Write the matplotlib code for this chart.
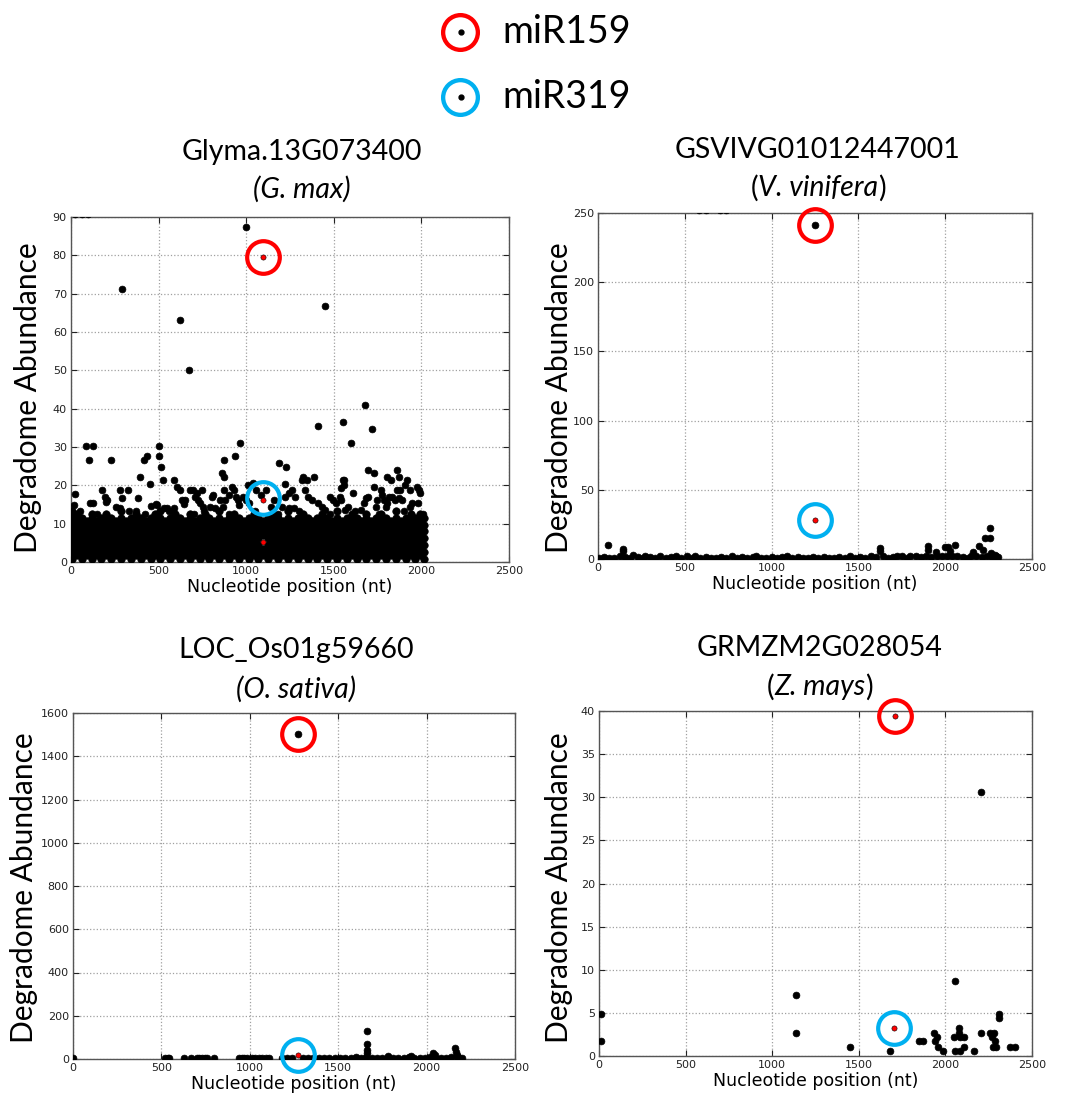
import matplotlib.pyplot as plt
from matplotlib.lines import Line2D


W, H = 1068, 1098
TEXT_FONT = ["Lato", "DejaVu Sans"]
RED = "#ff0000"
BLUE = "#00b0f0"

# ---- G. max (Glyma.13G073400) ----
gmax_band_x = [6, 34, 62, 90, 118, 146, 174, 202, 230, 258, 286, 314, 342, 370, 398,
               426, 454, 482, 510, 538, 566, 594, 622, 650, 678, 706, 734, 762, 790,
               818, 846, 874, 902, 930, 958, 986, 1014, 1042, 1070, 1098, 1126, 1154,
               1182, 1210, 1238, 1266, 1294, 1322, 1350, 1378, 1406, 1434, 1462, 1490,
               1518, 1546, 1574, 1602, 1630, 1658, 1686, 1714, 1742, 1770, 1798, 1826,
               1854, 1882, 1910, 1938, 1966, 1994, 2016]
gmax_band_y = [
    [0.9, 2.7, 4.4, 6.2, 8.0, 9.7, 11.5, 13.3],
    [1.8, 3.5, 5.3, 7.1, 8.9, 10.6, 12.4],
    [0.9, 2.7, 4.4, 6.2, 8.0, 9.7, 11.5],
    [1.8, 3.5, 5.3, 7.1, 8.9, 10.6],
    [0.9, 2.7, 4.4, 6.2, 8.0, 9.7, 11.5, 12.4],
    [1.8, 3.5, 5.3, 7.1, 8.9, 10.6],
    [0.9, 2.7, 4.4, 6.2, 8.0, 9.7, 11.5],
    [1.8, 3.5, 5.3, 7.1, 8.9, 10.6, 12.4],
    [0.9, 2.7, 4.4, 6.2, 8.0, 9.7, 11.5],
    [1.8, 3.5, 5.3, 7.1, 8.9, 10.6],
    [0.9, 2.7, 4.4, 6.2, 8.0, 9.7, 11.5, 13.3],
    [1.8, 3.5, 5.3, 7.1, 8.9, 10.6],
    [0.9, 2.7, 4.4, 6.2, 8.0, 9.7, 11.5],
    [1.8, 3.5, 5.3, 7.1, 8.9, 10.6, 12.4],
    [0.9, 2.7, 4.4, 6.2, 8.0, 9.7, 11.5],
    [1.8, 3.5, 5.3, 7.1, 8.9, 10.6],
    [0.9, 2.7, 4.4, 6.2, 8.0, 9.7, 11.5],
    [1.8, 3.5, 5.3, 7.1, 8.9, 10.6, 12.4],
    [0.9, 2.7, 4.4, 6.2, 8.0, 9.7, 11.5, 13.3],
    [1.8, 3.5, 5.3, 7.1, 8.9, 10.6],
    [0.9, 2.7, 4.4, 6.2, 8.0, 9.7, 11.5],
    [1.8, 3.5, 5.3, 7.1, 8.9, 10.6, 12.4],
    [0.9, 2.7, 4.4, 6.2, 8.0, 9.7, 11.5],
    [1.8, 3.5, 5.3, 7.1, 8.9, 10.6],
    [0.9, 2.7, 4.4, 6.2, 8.0, 9.7, 11.5, 12.4],
    [1.8, 3.5, 5.3, 7.1, 8.9, 10.6],
    [0.9, 2.7, 4.4, 6.2, 8.0, 9.7, 11.5],
    [1.8, 3.5, 5.3, 7.1, 8.9, 10.6, 12.4],
    [0.9, 2.7, 4.4, 6.2, 8.0, 9.7, 11.5],
    [1.8, 3.5, 5.3, 7.1, 8.9, 10.6],
    [0.9, 2.7, 4.4, 6.2, 8.0, 9.7, 11.5, 13.3],
    [1.8, 3.5, 5.3, 7.1, 8.9, 10.6],
    [0.9, 2.7, 4.4, 6.2, 8.0, 9.7, 11.5],
    [1.8, 3.5, 5.3, 7.1, 8.9, 10.6, 12.4],
    [0.9, 2.7, 4.4, 6.2, 8.0, 9.7, 11.5],
    [1.8, 3.5, 5.3, 7.1, 8.9, 10.6],
    [0.9, 2.7, 4.4, 6.2, 8.0, 9.7, 11.5],
    [1.8, 3.5, 5.3, 7.1, 8.9, 10.6, 12.4],
    [0.9, 2.7, 4.4, 6.2, 8.0, 9.7, 11.5],
    [1.8, 3.5, 7.1, 8.9, 10.6],
    [0.9, 2.7, 4.4, 6.2, 8.0, 9.7, 11.5],
    [1.8, 3.5, 5.3, 7.1, 8.9, 10.6, 12.4],
    [0.9, 2.7, 4.4, 6.2, 8.0, 9.7, 11.5],
    [1.8, 3.5, 5.3, 7.1, 8.9, 10.6],
    [0.9, 2.7, 4.4, 6.2, 8.0, 9.7, 11.5, 13.3],
    [1.8, 3.5, 5.3, 7.1, 8.9, 10.6],
    [0.9, 2.7, 4.4, 6.2, 8.0, 9.7, 11.5],
    [1.8, 3.5, 5.3, 7.1, 8.9, 10.6, 12.4],
    [0.9, 2.7, 4.4, 6.2, 8.0, 9.7, 11.5],
    [1.8, 3.5, 5.3, 7.1, 8.9, 10.6],
    [0.9, 2.7, 4.4, 6.2, 8.0, 9.7, 11.5],
    [1.8, 3.5, 5.3, 7.1, 8.9, 10.6, 12.4],
    [0.9, 2.7, 4.4, 6.2, 8.0, 9.7, 11.5],
    [1.8, 3.5, 5.3, 7.1, 8.9, 10.6],
    [0.9, 2.7, 4.4, 6.2, 8.0, 9.7, 11.5, 13.3],
    [1.8, 3.5, 5.3, 7.1, 8.9, 10.6],
    [0.9, 2.7, 4.4, 6.2, 8.0, 9.7, 11.5],
    [1.8, 3.5, 5.3, 7.1, 8.9, 10.6, 12.4],
    [0.9, 2.7, 4.4, 6.2, 8.0, 9.7, 11.5],
    [1.8, 3.5, 5.3, 7.1, 8.9, 10.6],
    [0.9, 2.7, 4.4, 6.2, 8.0, 9.7, 11.5, 12.4],
    [1.8, 3.5, 5.3, 7.1, 8.9, 10.6],
    [0.9, 2.7, 4.4, 6.2, 8.0, 9.7, 11.5],
    [1.8, 3.5, 5.3, 7.1, 8.9, 10.6, 12.4],
    [0.9, 2.7, 4.4, 6.2, 8.0, 9.7, 11.5],
    [1.8, 3.5, 5.3, 7.1, 8.9, 10.6],
    [0.9, 2.7, 4.4, 6.2, 8.0, 9.7, 11.5, 13.3],
    [1.8, 3.5, 5.3, 7.1, 8.9, 10.6],
    [0.9, 2.7, 4.4, 6.2, 8.0, 9.7, 11.5],
    [1.8, 3.5, 5.3, 7.1, 8.9, 10.6, 12.4],
    [0.9, 2.7, 4.4, 6.2, 8.0, 9.7, 11.5],
    [1.8, 3.5, 5.3, 7.1, 8.9, 10.6, 12.4],
    [0.9, 2.7, 4.4, 6.2, 8.0, 9.7, 11.5],
]
gmax_points = [
    (1001, 87.4), (292, 71.3), (621, 63.2), (671, 50.0), (1449, 66.8), (1679, 41.0),
    (1409, 35.6), (1554, 36.4), (1719, 34.7), (1598, 31.1), (965, 31.1), (87, 30.3),
    (125, 30.3), (104, 26.7), (230, 26.7), (418, 26.7), (433, 27.6), (505, 30.3),
    (502, 27.6), (513, 24.8), (391, 22.2), (450, 20.4), (524, 21.3), (589, 21.3),
    (876, 26.7), (937, 27.6), (861, 23.2), (874, 22.2), (1189, 25.7), (1225, 24.8),
    (1221, 20.4), (1317, 21.4), (1326, 22.2), (1345, 21.3), (1385, 22.2), (1560, 21.3),
    (1693, 24.1), (1731, 23.2), (1806, 22.2), (1829, 21.3), (1858, 24.1), (1873, 22.2),
    (1919, 21.3), (21, 17.7), (15, 14.8), (109, 15.3), (127, 15.3), (178, 18.8),
    (193, 17.0), (208, 16.3), (202, 15.7), (259, 14.4), (277, 14.2), (277, 18.8),
    (290, 16.8), (324, 18.8), (380, 16.8), (371, 13.3), (459, 14.6), (483, 15.1),
    (493, 14.8), (530, 14.2), (549, 14.2), (587, 14.2), (577, 13.2), (605, 19.6),
    (624, 18.8), (633, 16.1), (652, 16.1), (646, 15.1), (680, 18.8), (699, 18.8),
    (718, 17.9), (708, 17.0), (727, 16.1), (737, 15.3), (755, 14.4), (750, 18.8),
    (805, 17.0), (812, 17.5), (793, 14.4), (821, 14.0), (874, 18.8), (902, 17.5),
    (849, 16.1), (877, 16.1), (868, 14.4), (920, 19.6), (933, 18.8), (943, 17.0),
    (952, 16.1), (961, 14.8), (980, 17.0), (1008, 20.1), (1036, 20.5), (1055, 18.8),
    (1083, 17.5), (1111, 18.8), (1158, 16.1), (1139, 14.4), (999, 16.1), (1018, 15.3),
    (1219, 17.0), (1242, 17.9), (1261, 18.8), (1280, 17.0), (1205, 14.4), (1242, 14.0),
    (1270, 14.2), (1336, 18.8), (1355, 17.0), (1374, 16.1), (1411, 15.3), (1430, 14.4),
    (1449, 13.5), (1477, 17.0), (1496, 16.1), (1515, 15.3), (1534, 17.0), (1543, 16.1),
    (1552, 21.4), (1556, 20.1), (1543, 19.2), (1580, 14.4), (1562, 13.5), (1608, 17.9),
    (1655, 13.5), (1674, 15.3), (1683, 16.6), (1693, 17.0), (1730, 19.6), (1768, 18.8),
    (1777, 17.5), (1786, 16.1), (1805, 15.3), (1796, 14.4), (1749, 16.1), (1739, 14.4),
    (1814, 17.0), (1833, 17.0), (1852, 16.1), (1871, 16.6), (1889, 16.1), (1861, 18.8),
    (1880, 18.8), (1908, 20.1), (1936, 18.8), (1945, 15.3), (1936, 14.4), (1973, 19.6),
    (1988, 18.8), (1992, 17.9), (1983, 15.3), (50, 13.3), (150, 12.4), (330, 13.3),
    (420, 12.4), (560, 13.3), (700, 12.4), (760, 13.3), (900, 12.4), (1050, 13.3),
    (1180, 12.4), (1300, 13.3), (1480, 12.4), (1620, 13.3), (1760, 12.4), (1900, 13.3),
    (2010, 12.4), (20, 90.7), (60, 90.7), (95, 90.7),
]
gmax_red = [(1096, 79.5), (1096, 16.1), (1094, 5.3)]
gmax_mir159 = (1096, 79.5)
gmax_mir319 = (1096, 16.8)

# ---- V. vinifera (GSVIVG01012447001) ----
vin_x = [5, 35, 65, 95, 125, 155, 185, 200, 230, 260, 270, 300, 330, 360, 390, 420,
         450, 480, 510, 540, 560, 590, 620, 650, 680, 710, 740, 770, 800, 830, 860,
         890, 910, 940, 970, 1000, 1030, 1060, 1090, 1120, 1150, 1180, 1210, 1240,
         1270, 1300, 1330, 1360, 1390, 1420, 1450, 1480, 1510, 1540, 1570, 1600, 1640,
         1670, 1700, 1720, 1750, 1780, 1800, 1830, 1860, 1890, 1920, 1950, 1980, 2010,
         2040, 2070, 2100, 2130, 2150, 2180, 2210, 2240, 2270, 2290,
         60, 144, 144, 1626, 1626, 1901, 1901, 1949, 1997, 2016, 2054, 2026, 2160,
         2195, 2218, 2227, 2260, 2260, 2266, 2285, 2304, 580, 620, 700, 740, 1252]
vin_y = [1, 1.5, 1, 1, 2, 1.5, 1, 3, 1.5, 1, 2.5, 1.5, 1, 2, 1, 1.5,
         2, 1, 2, 1, 2.5, 1, 1.5, 1, 1, 1.5, 1, 2.5, 1, 1.5, 1,
         1.5, 2.5, 1, 1, 1.5, 1, 1.5, 2.5, 1, 1.5, 1, 1, 1.5,
         1, 1.5, 1, 1, 1.5, 1, 2, 1, 1.5, 1, 2, 1.5, 2,
         1, 1.5, 2.5, 2, 1, 2.5, 2, 1.5, 2, 1.5, 2, 2.5, 2,
         2.5, 2, 1.5, 1, 2, 2.5, 1.5, 2, 1.5, 2,
         10.1, 7.2, 5.5, 8.0, 5.5, 9.2, 6.3, 4.8, 8.4, 8.4, 10.1, 5.5, 4.8,
         9.6, 6.7, 14.9, 14.9, 22.7, 4.3, 3.1, 1.4, 252, 252, 252, 252, 241.2]
vin_red = [(1252, 28.0)]
vin_mir159 = (1252, 241.2)
vin_mir319 = (1252, 28.0)

# ---- O. sativa (LOC_Os01g59660) ----
osa_x = [0, 520, 535, 545, 625, 665, 700, 715, 730, 745, 760, 800, 940, 955, 970, 985,
         1010, 1030, 1050, 1070, 1090, 1110, 1180, 1210, 1240, 1300, 1330, 1360, 1390,
         1420, 1450, 1480, 1510, 1540, 1570, 1600, 1630, 1660, 1690, 1720, 1750, 1780,
         1810, 1840, 1870, 1900, 1930, 1960, 1990, 2020, 2050, 2080, 2110, 2140, 2170,
         2200, 1664, 1664, 1664, 1664, 1783, 1910, 2038, 2045, 2160, 2166, 2170, 2180,
         1270]
osa_y = [5, 4, 5, 3, 4, 3, 5, 4, 5, 4, 3, 4, 5, 4, 3, 5,
         4, 5, 3, 4, 5, 3, 4, 5, 4, 5, 6, 4, 5,
         6, 5, 6, 5, 6, 5, 8, 6, 7, 6, 5, 6, 7,
         6, 5, 6, 7, 6, 5, 6, 8, 6, 5, 6, 7, 8,
         6, 130, 68, 42, 29, 14, 14, 26, 18, 52, 34, 20, 10,
         1502]
osa_red = [(1270, 18.5)]
osa_mir159 = (1270, 1502)
osa_mir319 = (1270, 18.5)

# ---- Z. mays (GRMZM2G028054) ----
zma_x = [12, 12, 1136, 1136, 1450, 1681, 1845, 1870, 1937, 1950, 1940, 1960, 1985,
         2053, 2047, 2057, 2081, 2081, 2087, 2110, 2110, 2087, 2163, 2205, 2205, 2255,
         2282, 2268, 2288, 2274, 2293, 2307, 2307, 2375, 2404, 622, 753, 2169]
zma_y = [4.9, 1.7, 7.1, 2.7, 1.1, 0.6, 1.7, 1.7, 2.7, 2.2, 1.7, 1.1, 0.6,
         8.7, 2.2, 0.6, 3.2, 2.7, 2.2, 2.2, 1.1, 0.6, 0.6, 30.6, 2.7, 2.7,
         2.7, 2.2, 1.7, 1.1, 1.1, 4.9, 4.4, 1.1, 1.1, 40.55, 40.55, 40.55]
zma_red = [(1708, 39.4), (1704, 3.2)]
zma_mir159 = (1708, 39.4)
zma_mir319 = (1704, 3.2)


def px_axes(fig, left, top, right, bottom):
    return fig.add_axes([left / W, 1 - bottom / H, (right - left) / W, (bottom - top) / H])


def centered_pieces(fig, xc, yc, parts, size):
    # draw a title line made of pieces (some italic) centred on xc
    renderer = fig.canvas.get_renderer()
    texts = [fig.text(0, 1 - yc / H, s, fontsize=size, style=st, va="center", ha="left",
                      family=TEXT_FONT) for s, st in parts]
    widths = [t.get_window_extent(renderer).width for t in texts]
    x = xc - sum(widths) / 2
    for t, w in zip(texts, widths):
        t.set_x(x / W)
        x += w


def style_axes(ax, ymax, ystep):
    ax.set_xlim(0, 2500)
    ax.set_ylim(0, ymax)
    ax.set_xticks(range(0, 2501, 500))
    ax.set_yticks(range(0, ymax + 1, ystep))
    ax.tick_params(direction="in", top=True, right=True, labelsize=8, length=4,
                   colors="#222222", pad=3)
    ax.grid(True, linestyle=":", color="#a0a0a0", linewidth=0.9)
    ax.set_axisbelow(True)
    for s in ax.spines.values():
        s.set_color("#555555")
        s.set_linewidth(1.0)
    ax.set_xlabel("Nucleotide position (nt)", fontsize=12.5, labelpad=1)


def draw_panel(ax, xs, ys, reds, mir159, mir319, dot_size=24):
    ax.scatter(xs, ys, s=dot_size, color="black", edgecolors="black", linewidths=0.5, zorder=3)
    rx = [p[0] for p in reds]
    ry = [p[1] for p in reds]
    ax.scatter(rx, ry, s=14, color=RED, edgecolors="black", linewidths=0.4, zorder=4)
    ax.plot([mir159[0]], [mir159[1]], marker="o", ms=23.5, mfc="none", mec=RED,
            mew=3.0, ls="none", zorder=5, clip_on=False)
    ax.plot([mir319[0]], [mir319[1]], marker="o", ms=23.5, mfc="none", mec=BLUE,
            mew=3.0, ls="none", zorder=5, clip_on=False)


fig = plt.figure(figsize=(W / 100, H / 100), dpi=100)

# panel 1: G. max  (dense band drawn with slightly larger dots so it reads solid)
ax1 = px_axes(fig, 71, 217, 509, 562)
band_x = [x for x, col in zip(gmax_band_x, gmax_band_y) for _ in col]
band_y = [y for col in gmax_band_y for y in col]
ax1.scatter(band_x, band_y, s=29, color="black", edgecolors="black", linewidths=0.5, zorder=3)
draw_panel(ax1, [p[0] for p in gmax_points], [p[1] for p in gmax_points],
           gmax_red, gmax_mir159, gmax_mir319)
style_axes(ax1, 90, 10)

# panel 2: V. vinifera
ax2 = px_axes(fig, 598, 213, 1032, 559)
draw_panel(ax2, vin_x, vin_y, vin_red, vin_mir159, vin_mir319)
style_axes(ax2, 250, 50)

# panel 3: O. sativa
ax3 = px_axes(fig, 73, 713, 515, 1059)
draw_panel(ax3, osa_x, osa_y, osa_red, osa_mir159, osa_mir319)
style_axes(ax3, 1600, 200)

# panel 4: Z. mays
ax4 = px_axes(fig, 599, 711, 1032, 1056)
draw_panel(ax4, zma_x, zma_y, zma_red, zma_mir159, zma_mir319)
style_axes(ax4, 40, 5)

# y labels
for xc, yc in [(28, 398), (559, 398), (24, 888), (559, 888)]:
    fig.text(xc / W, 1 - yc / H, "Degradome Abundance", rotation=90, fontsize=21.5,
             family=TEXT_FONT, ha="center", va="center")

# titles
TITLE_SIZE = 20.5
centered_pieces(fig, 302, 152, [("Glyma.13G073400", "normal")], TITLE_SIZE)
centered_pieces(fig, 302, 189, [("(G. max)", "italic")], TITLE_SIZE)
centered_pieces(fig, 818, 150, [("GSVIVG01012447001", "normal")], TITLE_SIZE)
centered_pieces(fig, 818, 188, [("(", "normal"), ("V. vinifera", "italic"), (")", "normal")], TITLE_SIZE)
centered_pieces(fig, 296, 650, [("LOC_Os01g59660", "normal")], TITLE_SIZE)
centered_pieces(fig, 296, 689, [("(O. sativa)", "italic")], TITLE_SIZE)
centered_pieces(fig, 820, 648, [("GRMZM2G028054", "normal")], TITLE_SIZE)
centered_pieces(fig, 820, 687, [("(", "normal"), ("Z. mays", "italic"), (")", "normal")], TITLE_SIZE)

# legend
for color, label, yc in [(RED, "miR159", 32), (BLUE, "miR319", 97)]:
    fig.add_artist(Line2D([460 / W], [1 - yc / H], transform=fig.transFigure, marker="o",
                          ms=25, mfc="none", mec=color, mew=3.1, ls="none"))
    fig.add_artist(Line2D([461 / W], [1 - yc / H], transform=fig.transFigure, marker="o",
                          ms=3.5, color="black", ls="none"))
    fig.text(502 / W, 1 - yc / H, label, fontsize=27, family=TEXT_FONT, va="center", ha="left")

fig.savefig("out.png", dpi=100)
